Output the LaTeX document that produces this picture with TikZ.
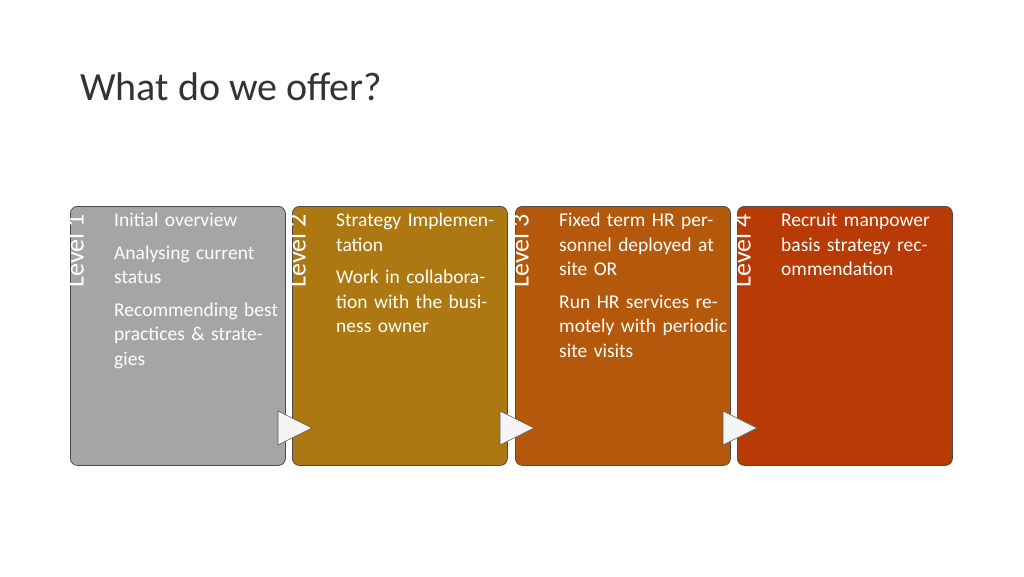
\documentclass[tikz,border=0pt]{standalone}
\usepackage{fontspec}
\setmainfont{Carlito}
\begin{document}
\begin{tikzpicture}[x=1pt,y=-1pt,
  box/.style={draw=black!70,line width=0.8pt,rounded corners=7pt,inner sep=0pt,anchor=north west,minimum width=215pt,minimum height=259pt},
  lvl/.style={rotate=90,anchor=south east,text=white,font=\fontsize{26}{28}\selectfont,inner sep=0pt},
  body/.style={anchor=north west,text=white,align=left,text width=170pt,font=\fontsize{19.5}{24.5}\selectfont,inner sep=0pt},
  arr/.style={draw=gray!70!black,fill=gray!8,line width=0.6pt}]
\useasboundingbox (0,0) rectangle (1024,576);
\node[anchor=base west,font=\fontsize{40}{44}\selectfont,text=black!80,inner sep=0pt] (title) at (80,100) {What do we offer?};
\definecolor{c1}{HTML}{A5A5A5}
\definecolor{c2}{HTML}{AD7812}
\definecolor{c3}{HTML}{B4580C}
\definecolor{c4}{HTML}{B83A04}
\node[box,fill=c1] (b1) at (70,206) {};
\node[box,fill=c2] (b2) at (292,206) {};
\node[box,fill=c3] (b3) at (515,206) {};
\node[box,fill=c4] (b4) at (737,206) {};
\foreach \i/\x in {1/84,2/306,3/529,4/751}{
  \node[lvl] (l\i) at (\x,214) {Level \i};
}
\node[body] (t1) at (114,213) {Initial overview\\[8pt]Analysing current status\\[8pt]Recommending best practices \& strategies};
\node[body] (t2) at (336,213) {Strategy Implementation\\[8pt]Work in collaboration with the business owner};
\node[body] (t3) at (559,213) {Fixed term HR personnel deployed at site OR\\[8pt]Run HR services remotely with periodic site visits};
\node[body] (t4) at (781,213) {Recruit manpower basis strategy recommendation};
\foreach \x/\n in {278/a1,500/a2,723/a3}{
  \draw[arr] (\x,411) -- (\x+34,428) -- (\x,445) -- cycle;
}
\end{tikzpicture}
\end{document}
